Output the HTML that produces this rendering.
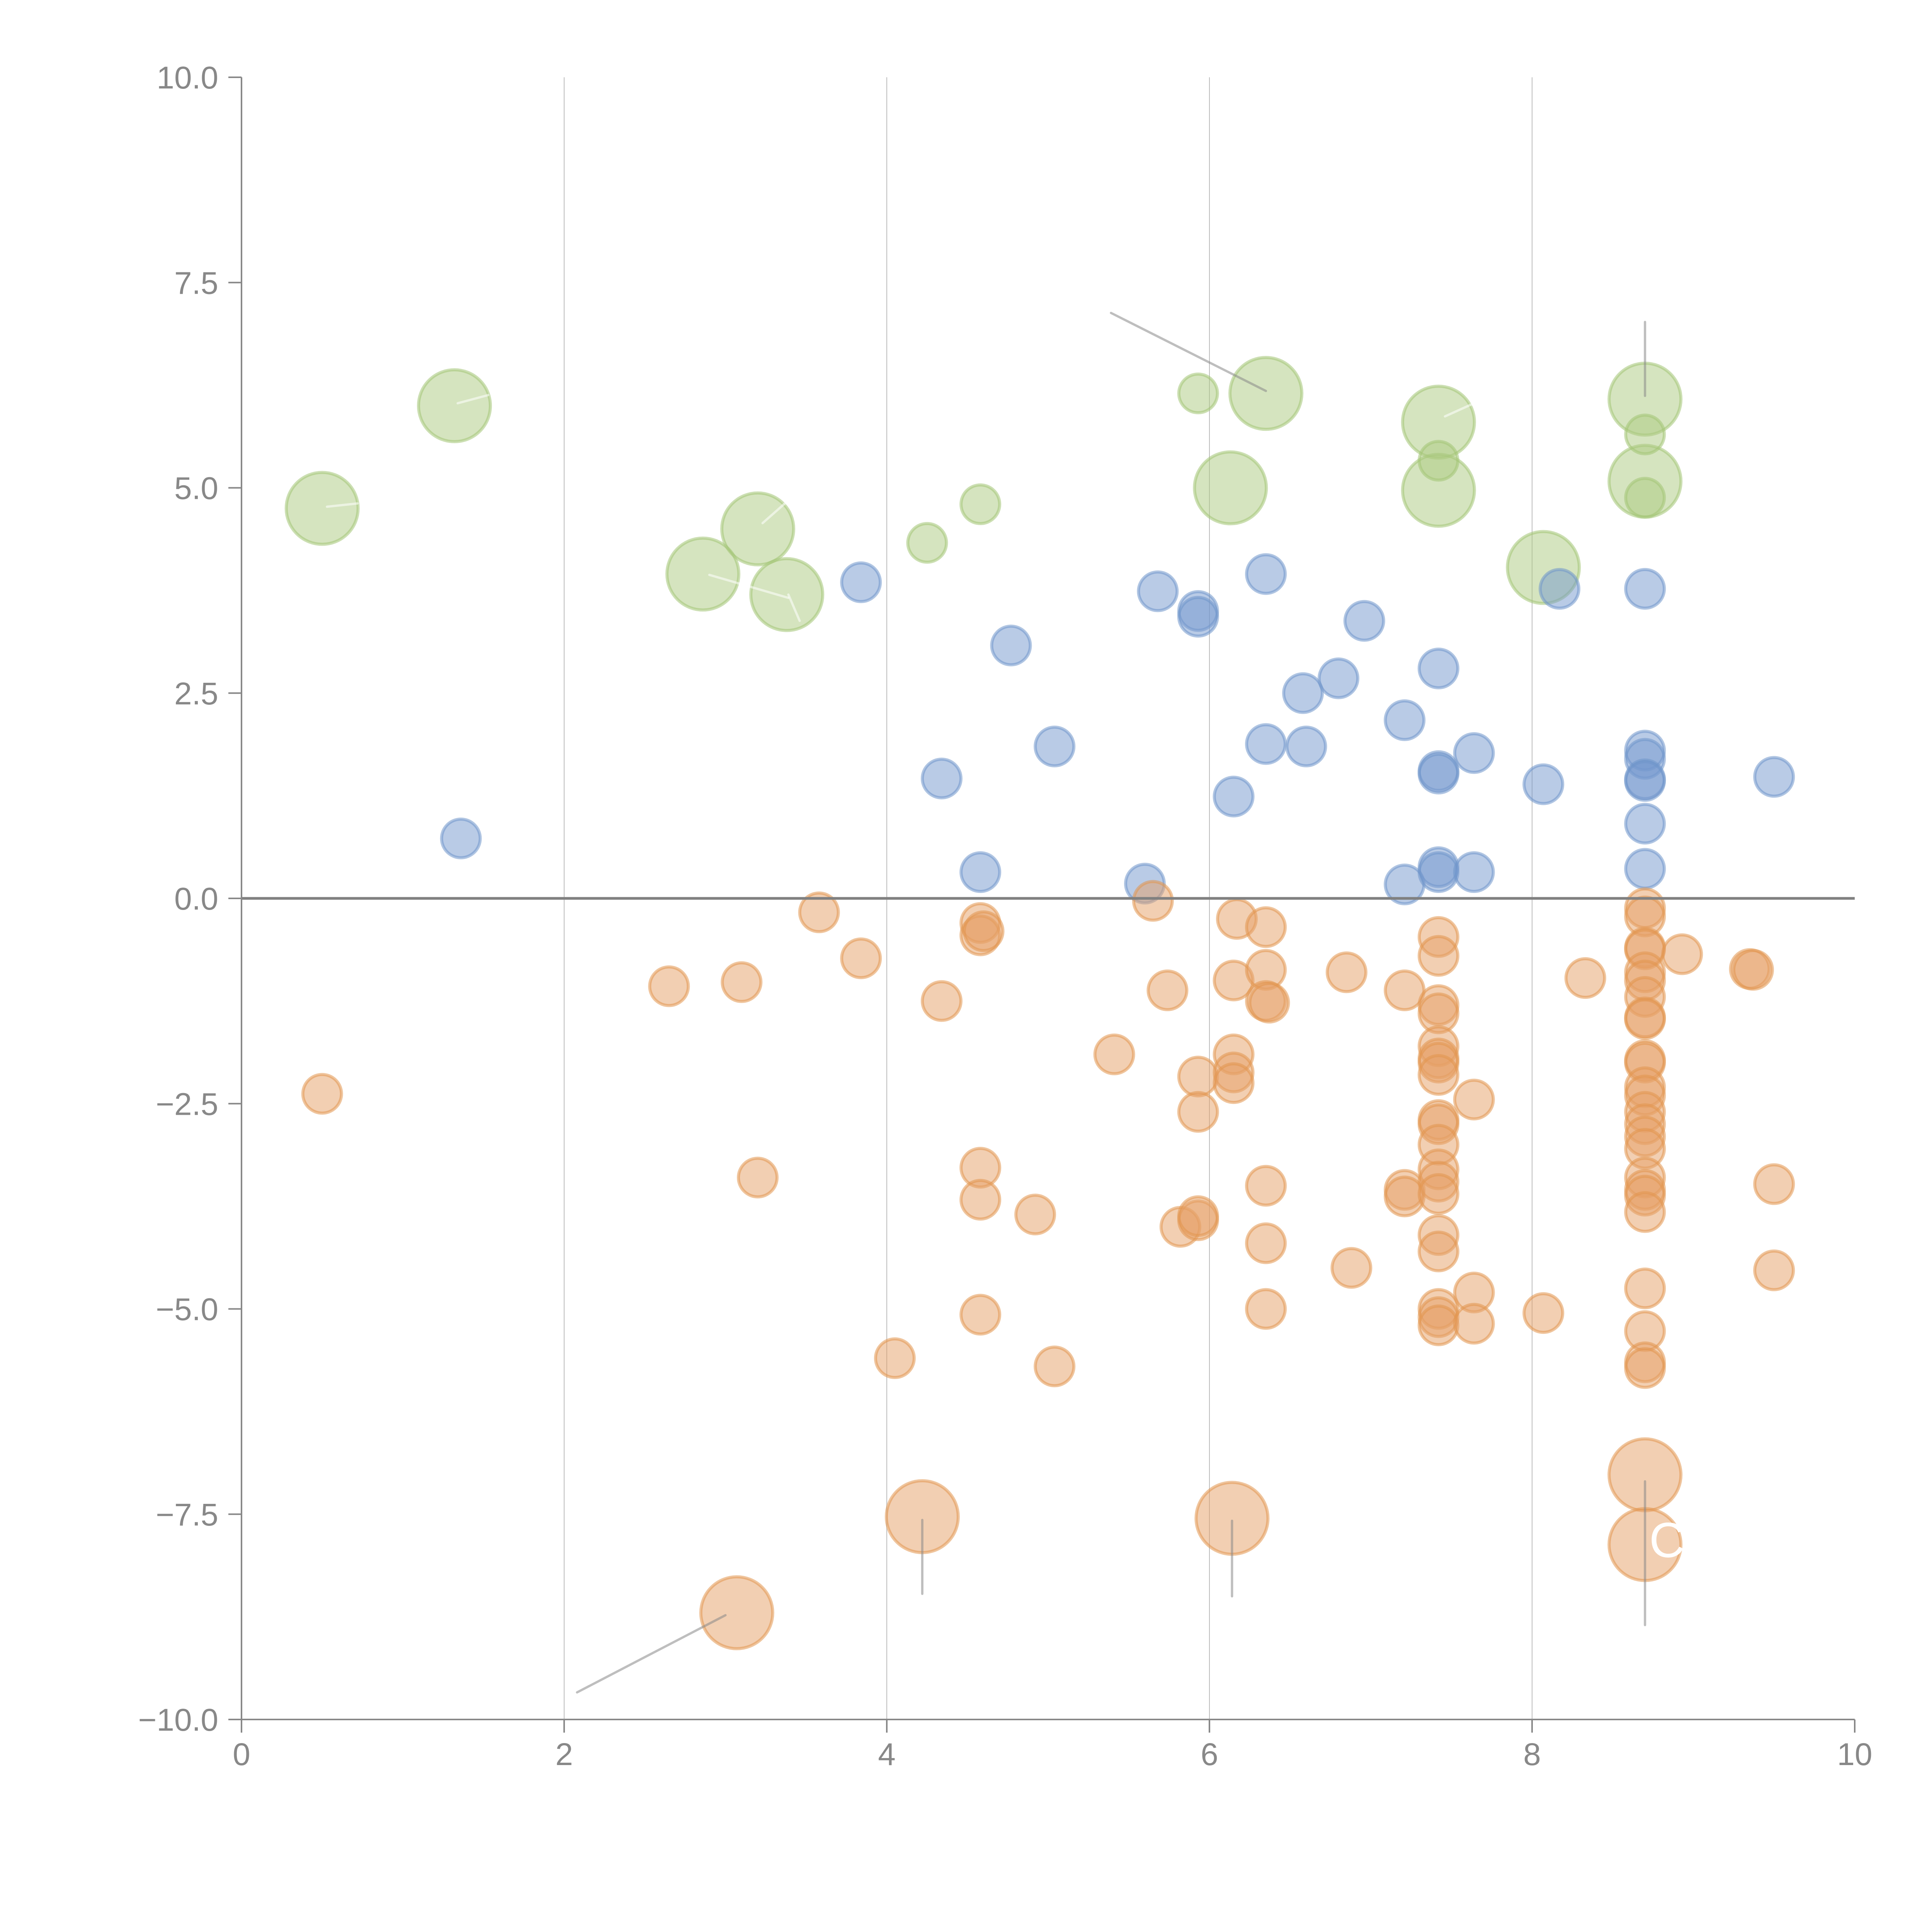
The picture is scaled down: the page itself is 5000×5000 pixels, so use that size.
<!DOCTYPE html>
<html><head><meta charset="utf-8"><style>
html,body{margin:0;padding:0;background:#fff;}
svg{display:block;font-family:"Liberation Sans",sans-serif;}
</style></head><body>
<svg id="chart" width="5000" height="5000" viewBox="0 0 5000 5000" xmlns="http://www.w3.org/2000/svg">
<rect width="5000" height="5000" fill="#fff"/>
<g id="grid"></g>
<g id="marks"></g>
<g id="callouts"></g>
<g id="axes"></g>
<text x="4268" y="4030" font-size="128" fill="#fff">C</text>
</svg>
<script>
const xTicks=[0,2,4,6,8,10];
const xTickLabels=["0","2","4","6","8","10"];
const yTicks=[10,7.5,5,2.5,0,-2.5,-5,-7.5,-10];
const yTickLabels=["10.0","7.5","5.0","2.5","0.0","\u22122.5","\u22125.0","\u22127.5","\u221210.0"];

const greenBigX=[0.5,1.32,3.2,2.86,3.38,6.35,6.13,7.42,7.42,8.07,8.7,8.7];
const greenBigY=[4.75,6.0,4.5,3.95,3.7,6.15,5.0,5.8,4.97,4.03,6.08,5.08];
const greenSmallX=[5.93,4.25,4.58,7.42,8.7,8.7];
const greenSmallY=[6.15,4.33,4.8,5.33,5.65,4.88];

const blueX=[1.36,3.84,4.77,4.34,5.04,4.58,5.68,5.93,5.93,6.35,5.6,6.15,6.35,6.6,6.58,6.8,6.96,7.21,7.42,7.42,7.42,7.64,7.21,7.42,7.42,7.64,8.07,8.17,8.7,8.7,8.7,8.7,8.7,8.7,8.7,9.5];
const blueY=[0.73,3.85,3.08,1.46,1.85,0.32,3.74,3.5,3.43,3.95,0.18,1.24,1.88,1.85,2.5,2.68,3.38,2.17,2.8,1.55,1.52,1.77,0.17,0.38,0.32,0.32,1.39,3.77,3.77,1.8,1.7,1.45,1.43,0.91,0.36,1.48];

const orangeX=[0.5,2.65,3.1,3.58,3.84,3.2,4.34,4.58,4.58,4.6,4.58,4.58,4.92,4.58,4.05,5.04,5.41,5.65,5.74,5.93,5.93,5.82,5.93,5.93,6.17,6.15,6.15,6.15,6.15,6.35,6.35,6.35,6.37,6.35,6.35,6.35,6.85,6.88,7.21,7.21,7.21,
7.42,7.42,7.42,7.42,7.42,7.42,7.42,7.42,7.42,7.42,7.42,7.42,7.42,7.42,7.42,7.42,7.42,7.42,7.42,
7.64,7.64,7.64,8.07,8.33,
8.7,8.7,8.7,8.7,8.7,8.7,8.7,8.7,8.7,8.7,8.7,8.7,8.7,8.7,8.7,8.7,8.7,8.7,8.7,8.7,8.7,8.7,8.7,8.7,8.7,
8.93,9.35,9.37,9.5,9.5];
const orangeY=[-2.38,-1.07,-1.02,-0.17,-0.73,-3.4,-1.25,-0.3,-0.45,-0.4,-3.28,-3.67,-3.85,-5.07,-5.6,-5.7,-1.9,-0.03,-1.12,-2.17,-2.6,-4.0,-3.92,-3.87,-0.25,-1.0,-1.9,-2.12,-2.25,-0.35,-0.87,-1.25,-1.27,-3.5,-4.2,-5.0,-0.9,-4.5,-1.12,-3.55,-3.63,
-0.47,-0.7,-1.3,-1.4,-1.8,-1.95,-2.0,-2.15,-2.7,-2.75,-3.0,-3.3,-3.45,-3.6,-4.1,-4.3,-5.0,-5.1,-5.2,
-2.45,-4.8,-5.18,-5.05,-0.97,
-0.12,-0.22,-0.6,-0.62,-0.9,-1.0,-1.2,-1.45,-1.47,-1.97,-2.0,-2.3,-2.4,-2.6,-2.75,-2.9,-3.05,-3.4,-3.55,-3.62,-3.82,-4.75,-5.27,-5.65,-5.72,
-0.68,-0.86,-0.87,-3.48,-4.53];
const orangeBigX=[3.07,4.22,6.14,8.7,8.7];
const orangeBigY=[-8.7,-7.53,-7.55,-7.02,-7.87];

const grayLineX1=[5.39,8.7,2.08,4.22,6.14,8.7];
const grayLineY1=[7.13,7.02,-9.67,-8.47,-8.5,-8.85];
const grayLineX2=[6.35,8.7,3.0,4.22,6.14,8.7];
const grayLineY2=[6.18,6.12,-8.73,-7.57,-7.58,-7.1];
const whiteLineX1=[0.53,1.34,3.23,2.9,3.39,7.46];
const whiteLineY1=[4.77,6.03,4.57,3.94,3.7,5.87];
const whiteLineX2=[0.72,1.53,3.38,3.39,3.46,7.64];
const whiteLineY2=[4.81,6.13,4.83,3.66,3.38,6.03];

const NS="http://www.w3.org/2000/svg";
const X0=625,X1=4800,Ytop=200,Ybot=4450;
function sx(v){return X0+(v-0)/(10-0)*(X1-X0);}
function sy(v){return Ybot-(v+10)/20*(Ybot-Ytop);}
function mk(tag,attrs,parent){const e=document.createElementNS(NS,tag);for(const k in attrs)e.setAttribute(k,attrs[k]);parent.appendChild(e);return e;}

const grid=document.getElementById('grid');
[2,4,6,8].forEach(v=>{
  const l=mk('line',{x1:sx(v),x2:sx(v),y1:Ytop,y2:Ybot,stroke:'#bbb','stroke-width':2},grid);
  
  
});

const marks=document.getElementById('marks');
function bubbles(xs,ys,r,fill,stroke,name){
  for(let i=0;i<xs.length;i++){
    const c=mk('circle',{cx:sx(xs[i]),cy:sy(ys[i]),r:r,fill:fill,'fill-opacity':0.5,stroke:stroke,'stroke-opacity':0.55,'stroke-width':8},marks);
    
    
  }
}
bubbles(greenBigX,greenBigY,93,'#abca80','#a3c474','bubble-green');
bubbles(greenSmallX,greenSmallY,50,'#abca80','#a3c474','bubble-green');
bubbles(blueX,blueY,50,'#7398cd','#6f95cb','bubble-blue');
bubbles(orangeX,orangeY,50,'#e6a066','#e2964f','bubble-orange');
bubbles(orangeBigX,orangeBigY,93,'#e6a066','#e2964f','bubble-orange');

const call=document.getElementById('callouts');
for(let i=0;i<grayLineX1.length;i++){
  const l=mk('line',{x1:sx(grayLineX1[i]),y1:sy(grayLineY1[i]),x2:sx(grayLineX2[i]),y2:sy(grayLineY2[i]),stroke:'#888','stroke-opacity':0.55,'stroke-width':6,'stroke-linecap':'round'},call);
  
  
}
for(let i=0;i<whiteLineX1.length;i++){
  const l=mk('line',{x1:sx(whiteLineX1[i]),y1:sy(whiteLineY1[i]),x2:sx(whiteLineX2[i]),y2:sy(whiteLineY2[i]),stroke:'#fff','stroke-opacity':0.55,'stroke-width':6,'stroke-linecap':'round'},call);
  
  
}

const axes=document.getElementById('axes');
const zl=mk('line',{x1:X0,x2:X1,y1:sy(0),y2:sy(0),stroke:'#808080','stroke-width':7},axes);


const ya=mk('line',{x1:X0,x2:X0,y1:Ytop,y2:Ybot,stroke:'#888','stroke-width':4},axes);


const xa=mk('line',{x1:X0,x2:X1,y1:Ybot,y2:Ybot,stroke:'#888','stroke-width':4},axes);


yTicks.forEach((v,i)=>{
  const t=mk('line',{x1:X0-34,x2:X0,y1:sy(v),y2:sy(v),stroke:'#888','stroke-width':4},axes);
  
  
  const tx=mk('text',{x:X0-60,y:sy(v)+29,'text-anchor':'end','font-size':82,fill:'#888'},axes);
  tx.textContent=yTickLabels[i];
  
  
});
xTicks.forEach((v,i)=>{
  const t=mk('line',{x1:sx(v),x2:sx(v),y1:Ybot,y2:Ybot+34,stroke:'#888','stroke-width':4},axes);
  
  
  const tx=mk('text',{x:sx(v),y:Ybot+118,'text-anchor':'middle','font-size':82,fill:'#888'},axes);
  tx.textContent=xTickLabels[i];
  
  
});
</script>
</body></html>
